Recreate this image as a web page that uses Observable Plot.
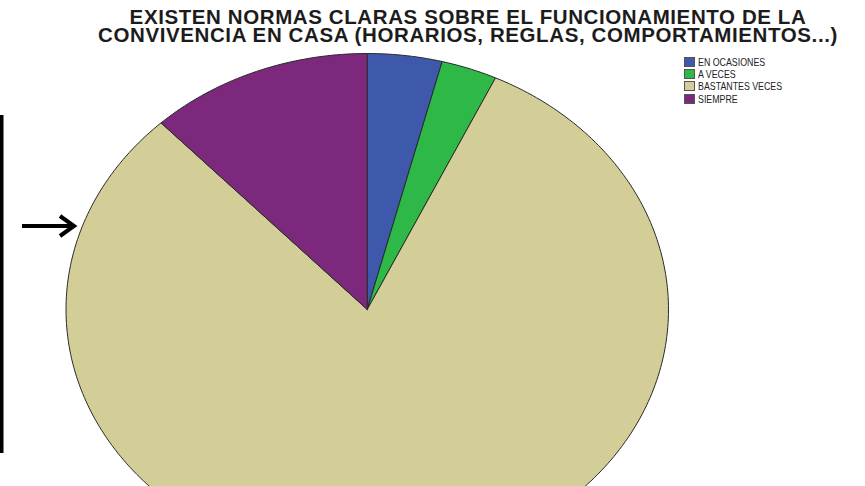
<!DOCTYPE html>
<html>
<head>
<meta charset="utf-8">
<script src="https://cdn.jsdelivr.net/npm/d3@7"></script>
<script src="https://cdn.jsdelivr.net/npm/@observablehq/plot@0.6"></script>
<style>
  html, body { margin: 0; padding: 0; background: #fff; overflow: hidden; }
  #wrap { position: relative; width: 865px; height: 486px; overflow: hidden; }
  #title { position: absolute; left: 0; top: 8px; width: 936px; text-align: center;
    font-family: "Liberation Sans", Arial, sans-serif; font-weight: bold; font-size: 20.5px;
    color: #1c1c1c; letter-spacing: 0.6px; }
  #title div { height: 17.5px; line-height: 17.5px; white-space: nowrap; }
  #chart { position: absolute; left: 0; top: 0; }
  #legend { position: absolute; left: 684px; top: 56px; font-family: "Liberation Sans", Arial, sans-serif;
    font-size: 10.5px; color: #222; }
  .row { display: flex; align-items: center; height: 12.2px; white-space: nowrap; }
  .sw { width: 11px; height: 10px; margin-right: 3px; box-sizing: border-box; border: 1px solid #555; flex: none; }
  .lt { display: inline-block; transform: scaleX(0.84); transform-origin: left center; }
  #deco { position: absolute; left: 0; top: 0; }
</style>
</head>
<body>
<div id="wrap">
  <div id="chart"></div>
  <div id="title"></div>
  <div id="legend"></div>
  <svg id="deco" width="100" height="486">
    <rect x="0" y="115" width="3.5" height="338" fill="#000"></rect>
    <line x1="22" y1="226" x2="70" y2="226" stroke="#000" stroke-width="4"></line>
    <polyline points="60,216 74,226 60,236" fill="none" stroke="#000" stroke-width="4" stroke-linejoin="miter"></polyline>
  </svg>
</div>
<script>
const titleLines = ["EXISTEN NORMAS CLARAS SOBRE EL FUNCIONAMIENTO DE LA",
                    "CONVIVENCIA EN CASA (HORARIOS, REGLAS, COMPORTAMIENTOS...)"];
const categories = ["EN OCASIONES", "A VECES", "BASTANTES VECES", "SIEMPRE"];
const values = [4, 3, 81, 12];
const colors = ["#3E58AC", "#2EB848", "#D3CE97", "#7C287D"];

document.getElementById("title").innerHTML = titleLines.map(t => `<div>${t}</div>`).join("");
document.getElementById("legend").innerHTML = categories.map((c, i) =>
  `<div class="row"><span class="sw" style="background:${colors[i]}"></span><span class="lt">${c}</span></div>`).join("");

const table = categories.map((c, i) => ({category: c, value: values[i]}));
const arcs = d3.pie().sort(null).value(d => d.value)(table);

// Build slice outlines in unit-circle data space (angle 0 = top, clockwise)
function slicePoints(a) {
  const pts = [{x: 0, y: 0, category: a.data.category}];
  const n = Math.max(4, Math.ceil((a.endAngle - a.startAngle) / (Math.PI / 180)));
  for (let k = 0; k <= n; k++) {
    const t = a.startAngle + (a.endAngle - a.startAngle) * k / n;
    pts.push({x: Math.sin(t), y: Math.cos(t), category: a.data.category});
  }
  pts.push({x: 0, y: 0, category: a.data.category});
  return pts;
}

const marks = arcs.map((a, i) => Plot.line(slicePoints(a), {
  x: "x", y: "y", fill: colors[i], stroke: "#2a2a2a", strokeWidth: 1, curve: "linear"
}));

const chart = Plot.plot({
  width: 865,
  height: 486,
  margin: 0,
  x: {domain: [-1, 1], range: [65.5, 668], axis: null},
  y: {domain: [-1, 1], range: [565, 53], axis: null},
  style: {background: "transparent", overflow: "hidden"},
  marks
});
document.getElementById("chart").appendChild(chart);
</script>
</body>
</html>
